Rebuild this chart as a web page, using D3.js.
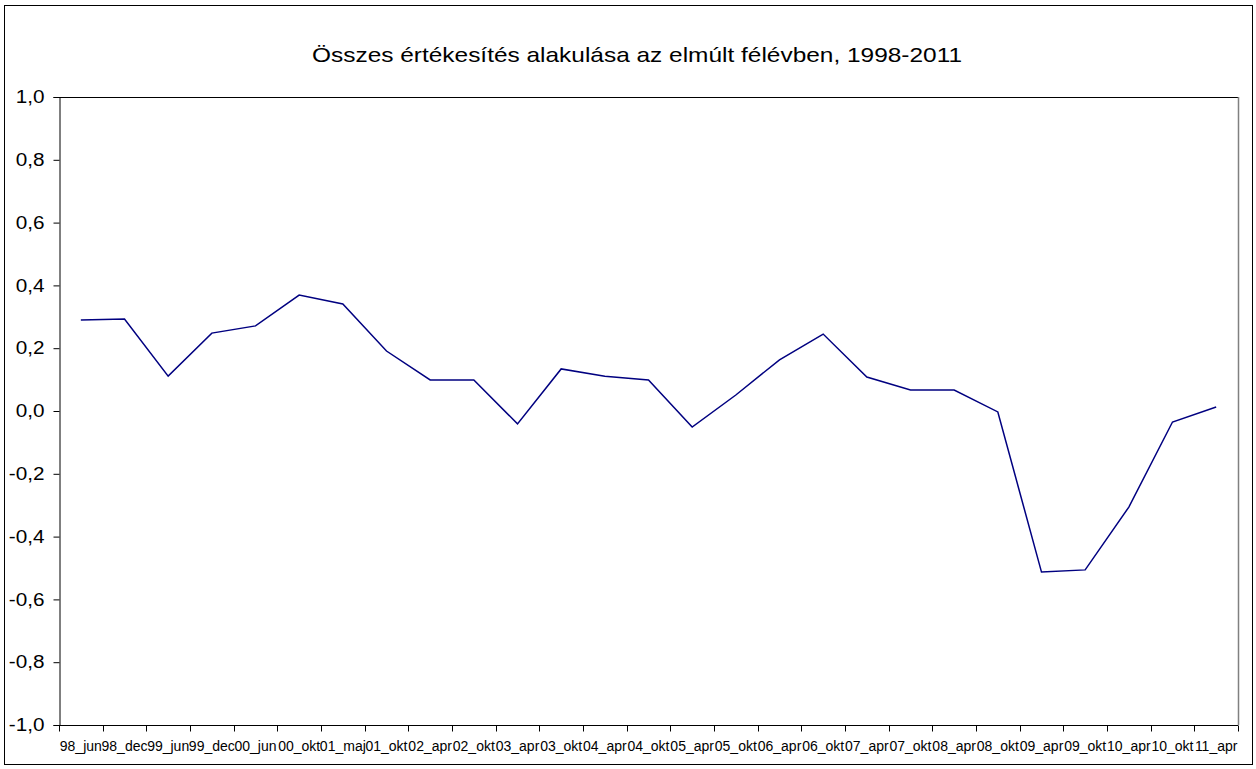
<!DOCTYPE html>
<html><head><meta charset="utf-8">
<script src="https://cdn.jsdelivr.net/npm/d3@7"></script>
<style>body{margin:0;background:#fff}svg{display:block}</style>
</head><body>
<svg id="c" width="1256" height="769"></svg>
<script>
const categories = ["98_jun","98_dec","99_jun","99_dec","00_jun","00_okt","01_maj","01_okt","02_apr","02_okt","03_apr","03_okt","04_apr","04_okt","05_apr","05_okt","06_apr","06_okt","07_apr","07_okt","08_apr","08_okt","09_apr","09_okt","10_apr","10_okt","11_apr"];
const values = [0.290,0.293,0.111,0.248,0.271,0.369,0.341,0.191,0.099,0.099,-0.041,0.134,0.111,0.099,-0.051,0.051,0.163,0.245,0.108,0.067,0.067,-0.003,-0.513,-0.506,-0.306,-0.035,0.013];
const yTicks = [-1.0,-0.8,-0.6,-0.4,-0.2,0.0,0.2,0.4,0.6,0.8,1.0];
const title = "Összes értékesítés alakulása az elmúlt félévben, 1998-2011";

const svg = d3.select("#c");
const font = "Arial, 'Liberation Sans', sans-serif";
const L = 59, R = 1238, T = 97, B = 725;

function stretch(sel, f) {
  sel.each(function() {
    const w = this.getComputedTextLength();
    d3.select(this).attr("textLength", w * f).attr("lengthAdjust", "spacingAndGlyphs");
  });
}

svg.append("rect").attr("x",4.5).attr("y",5.5).attr("width",1248).attr("height",759)
  .attr("fill","#fff").attr("stroke","#000").attr("stroke-width",1);

const tt = svg.append("text").attr("x",637).attr("y",62).attr("text-anchor","middle")
  .attr("font-family",font).attr("font-size",21).attr("fill","#000").text(title);
tt.attr("textLength", 650).attr("lengthAdjust","spacingAndGlyphs");

const x = d3.scaleBand().domain(categories).range([L,R]).padding(0);
const y = d3.scaleLinear().domain([-1,1]).range([B,T]);

// plot frame top/right
svg.append("line").attr("x1",L).attr("x2",R).attr("y1",T+0.5).attr("y2",T+0.5).attr("stroke","#000");
svg.append("line").attr("x1",R+0.5).attr("x2",R+0.5).attr("y1",T).attr("y2",B).attr("stroke","#808080").attr("stroke-width",1.5);

// y axis
const yAxis = d3.axisLeft(y).tickValues(yTicks).tickSize(6).tickPadding(9)
  .tickFormat(d => d3.format(".1f")(d).replace(".",",").replace("−","-"));
const gy = svg.append("g").attr("transform",`translate(${L+0.5},0)`).call(yAxis);
gy.select(".domain").attr("stroke","#000");
gy.selectAll("text").attr("font-family",font).attr("font-size",18).attr("fill","#000");
stretch(gy.selectAll("text"), 1.15);

// x axis
const gx = svg.append("g").attr("transform",`translate(0,${B+0.5})`);
gx.append("line").attr("x1",L).attr("x2",R).attr("stroke","#000");
const bounds = categories.map(c => x(c)).concat([R]);
gx.selectAll("line.t").data(bounds).join("line").attr("class","t")
  .attr("x1",d=>Math.round(d)+0.5).attr("x2",d=>Math.round(d)+0.5).attr("y1",0).attr("y2",6).attr("stroke","#000");
gx.selectAll("text").data(categories).join("text")
  .attr("x",d=>x(d)+x.bandwidth()/2).attr("y",25).attr("text-anchor","middle")
  .attr("font-family",font).attr("font-size",14).attr("fill","#000").text(d=>d);

const line = d3.line().x((d,i)=>x(categories[i])+x.bandwidth()/2).y(d=>y(d));
svg.append("path").datum(values).attr("d",line).attr("fill","none")
  .attr("stroke","#000080").attr("stroke-width",1.5).attr("stroke-linejoin","miter");
</script>
</body></html>
